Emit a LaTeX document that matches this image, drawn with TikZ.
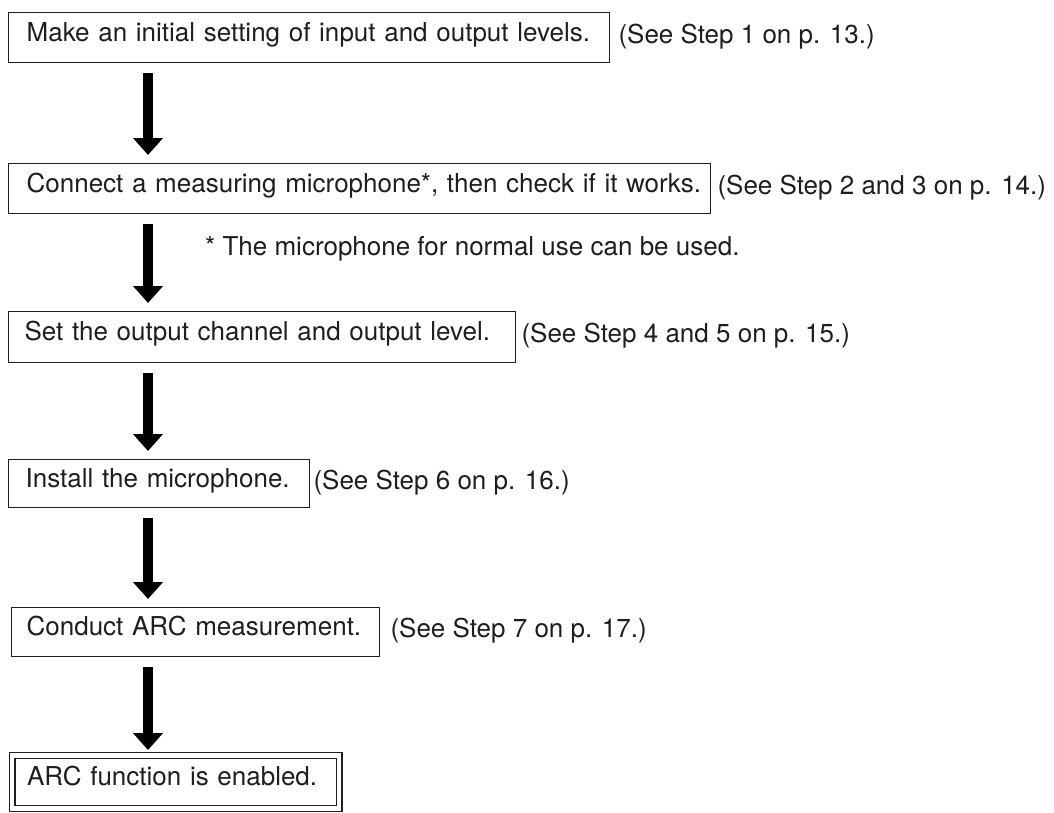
\documentclass[tikz,border=0pt]{standalone}
\usepackage{fontspec}
\setmainfont{TeX Gyre Heros}
\usetikzlibrary{arrows.meta}
\definecolor{ink}{HTML}{1E1E1E}
\tikzset{
  stepbox/.style={draw=ink, line width=1.3pt, anchor=north west, inner xsep=0pt, inner ysep=0pt,
    text=ink, text height=0.72em, text depth=0pt, align=left},
  steplabel/.style={anchor=west, inner sep=0pt, text=ink, text height=0.72em, text depth=0pt},
  flowarrow/.style={draw=black, line width=10pt, -{Triangle[width=29pt,length=17pt]}, shorten <=10pt, shorten >=8pt}
}
\newcommand{\boxtext}[2]{\hspace*{#1pt}#2}
\begin{document}
\begin{tikzpicture}[x=1pt,y=-1pt,font=\fontsize{26}{31}\selectfont]
\useasboundingbox (0,0) rectangle (1054,812);
\coordinate (ax) at (148,0);
% boxes
\node[stepbox, minimum width=601pt, minimum height=50pt, text width=601pt] (b1) at (8,12)
  {\boxtext{18}{Make an initial setting of input and output levels.}};
\node[stepbox, minimum width=702pt, minimum height=50pt, text width=702pt] (b2) at (8,163)
  {\boxtext{18}{Connect a measuring microphone*, then check if it works.}};
\node[stepbox, minimum width=507pt, minimum height=51pt, text width=507pt] (b3) at (8,311)
  {\boxtext{16}{Set the output channel and output level.}};
\node[stepbox, minimum width=301pt, minimum height=48pt, text width=301pt] (b4) at (8,459)
  {\boxtext{17}{Install the microphone.}};
\node[stepbox, minimum width=368pt, minimum height=49pt, text width=368pt] (b5) at (11,607)
  {\boxtext{15}{Conduct ARC measurement.}};
\node[stepbox, double=white, double distance=4.6pt, minimum width=327pt, minimum height=53pt, text width=327pt] (b6) at (11.5,755)
  {\boxtext{15}{ARC function is enabled.}};
% labels
\node[steplabel] (l1) at ([xshift=8pt,yshift=-2pt]b1.east) {(See Step 1 on p. 13.)};
\node[steplabel] (l2) at ([xshift=6pt,yshift=-2pt]b2.east) {(See Step 2 and 3 on p. 14.)};
\node[steplabel] (l3) at ([xshift=5pt,yshift=-2pt]b3.east) {(See Step 4 and 5 on p. 15.)};
\node[steplabel] (l4) at ([xshift=3pt,yshift=-2pt]b4.east) {(See Step 6 on p. 16.)};
\node[steplabel] (l5) at ([xshift=10pt,yshift=-2pt]b5.east) {(See Step 7 on p. 17.)};
\node[anchor=base west, inner sep=0pt, text=ink] (note) at (205,255) {* The microphone for normal use can be used.};
% arrows
\draw[flowarrow] (b1.south -| ax) -- (b2.north -| ax);
\draw[flowarrow] (b2.south -| ax) -- (b3.north -| ax);
\draw[flowarrow] (b3.south -| ax) -- (b4.north -| ax);
\draw[flowarrow] (b4.south -| ax) -- (b5.north -| ax);
\draw[flowarrow, shorten >=5pt] (b5.south -| ax) -- (b6.north -| ax);
\end{tikzpicture}
\end{document}
